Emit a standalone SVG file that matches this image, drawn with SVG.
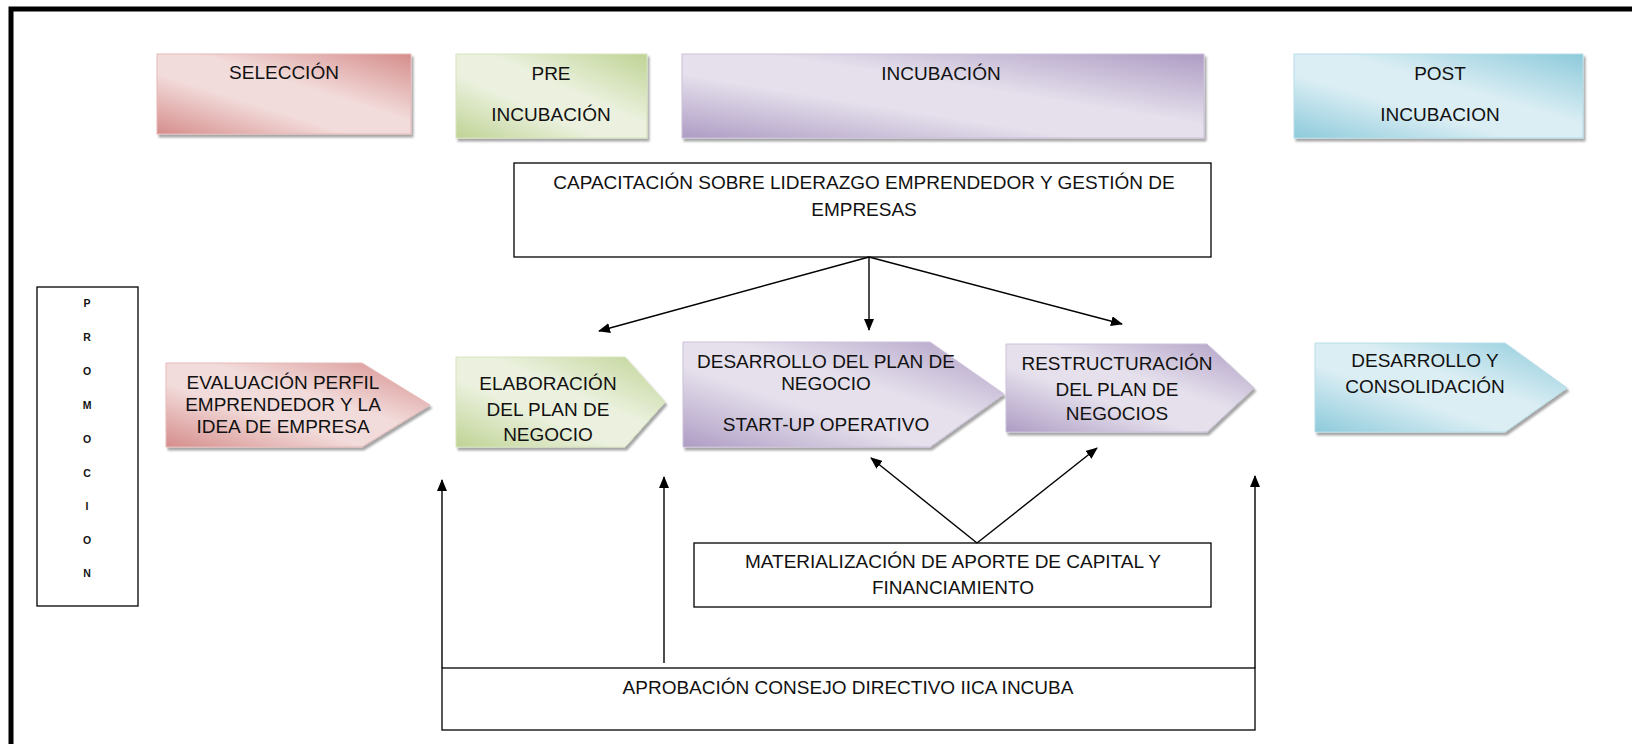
<svg xmlns="http://www.w3.org/2000/svg" width="1632" height="744" viewBox="0 0 1632 744">
<style>
  text { font-family: "Liberation Sans", Arial, sans-serif; font-size: 19px; fill: #111; text-anchor: middle; }
  .promo { font-size: 10.5px; font-weight: bold; }
  .box { fill: #fff; stroke: #000; stroke-width: 1.3; }
  .conn { stroke: #000; stroke-width: 1.4; fill: none; }
  .arr { marker-end: url(#ah); }
  .shape { filter: url(#sh); stroke-width: 1; }
</style>
<defs>
  <marker id="ah" markerUnits="userSpaceOnUse" markerWidth="12" markerHeight="10" refX="11" refY="5" orient="auto">
    <path d="M0,0 L12,5 L0,10 Z" fill="#000"/>
  </marker>
  <filter id="sh" x="-5%" y="-10%" width="115%" height="130%">
    <feDropShadow dx="2" dy="3" stdDeviation="1.2" flood-color="#000" flood-opacity="0.35"/>
  </filter>
  <linearGradient id="gRed" x1="0" y1="1" x2="1" y2="0">
    <stop offset="0" stop-color="#D58D8B"/>
    <stop offset="0.38" stop-color="#F2DCDB"/>
    <stop offset="0.58" stop-color="#F2DCDB"/>
    <stop offset="1" stop-color="#D58D8B"/>
  </linearGradient>
  <linearGradient id="gGreen" x1="0" y1="1" x2="1" y2="0">
    <stop offset="0" stop-color="#BFD394"/>
    <stop offset="0.38" stop-color="#EBF1DE"/>
    <stop offset="0.58" stop-color="#EBF1DE"/>
    <stop offset="1" stop-color="#BFD394"/>
  </linearGradient>
  <linearGradient id="gPurple" x1="0" y1="1" x2="1" y2="0">
    <stop offset="0" stop-color="#AE9CC4"/>
    <stop offset="0.38" stop-color="#E5E0EC"/>
    <stop offset="0.58" stop-color="#E5E0EC"/>
    <stop offset="1" stop-color="#AE9CC4"/>
  </linearGradient>
  <linearGradient id="gBlue" x1="0" y1="1" x2="1" y2="0">
    <stop offset="0" stop-color="#8DCADB"/>
    <stop offset="0.38" stop-color="#DBEEF4"/>
    <stop offset="0.58" stop-color="#DBEEF4"/>
    <stop offset="1" stop-color="#8DCADB"/>
  </linearGradient>
</defs>

<rect width="1632" height="744" fill="#fff"/>
<!-- outer frame -->
<path d="M11,744 V9 H1632" fill="none" stroke="#000" stroke-width="5"/>

<!-- header boxes -->
<g id="seleccion">
  <rect class="shape" x="157" y="54" width="254" height="80" fill="url(#gRed)" stroke="#E6B9B8"/>
  <text x="284" y="79">SELECCIÓN</text>
</g>
<g id="pre-incubacion">
  <rect class="shape" x="456" y="54" width="191" height="84" fill="url(#gGreen)" stroke="#D7E4BD"/>
  <text x="551" y="80">PRE</text>
  <text x="551" y="121">INCUBACIÓN</text>
</g>
<g id="incubacion">
  <rect class="shape" x="682" y="54" width="522" height="84" fill="url(#gPurple)" stroke="#CCC1DA"/>
  <text x="941" y="80">INCUBACIÓN</text>
</g>
<g id="post-incubacion">
  <rect class="shape" x="1294" y="54" width="289" height="84" fill="url(#gBlue)" stroke="#B7DEE8"/>
  <text x="1440" y="80">POST</text>
  <text x="1440" y="121">INCUBACION</text>
</g>

<!-- capacitacion -->
<g id="capacitacion">
  <rect class="box" x="514" y="163" width="697" height="94"/>
  <text x="864" y="189">CAPACITACIÓN SOBRE LIDERAZGO EMPRENDEDOR Y GESTIÓN DE</text>
  <text x="864" y="216">EMPRESAS</text>
</g>

<!-- promocion -->
<g id="promocion">
  <rect class="box" x="37" y="287" width="101" height="319"/>
  <text class="promo" x="87" y="307">P</text>
  <text class="promo" x="87" y="341">R</text>
  <text class="promo" x="87" y="375">O</text>
  <text class="promo" x="87" y="409">M</text>
  <text class="promo" x="87" y="443">O</text>
  <text class="promo" x="87" y="477">C</text>
  <text class="promo" x="87" y="510">I</text>
  <text class="promo" x="87" y="544">O</text>
  <text class="promo" x="87" y="577">N</text>
</g>

<!-- process chevrons -->
<g id="evaluacion">
  <path class="shape" d="M166,363 H362 L430,405 L362,447 H166 Z" fill="url(#gRed)" stroke="#E6B9B8"/>
  <text x="283" y="389">EVALUACIÓN PERFIL</text>
  <text x="283" y="411">EMPRENDEDOR Y LA</text>
  <text x="283" y="433">IDEA DE EMPRESA</text>
</g>
<g id="elaboracion">
  <path class="shape" d="M456,357 H625 L665,402 L625,447 H456 Z" fill="url(#gGreen)" stroke="#D7E4BD"/>
  <text x="548" y="390">ELABORACIÓN</text>
  <text x="548" y="416">DEL PLAN DE</text>
  <text x="548" y="441">NEGOCIO</text>
</g>
<g id="desarrollo-plan">
  <path class="shape" d="M683,342 H930 L1004,394 L930,447 H683 Z" fill="url(#gPurple)" stroke="#CCC1DA"/>
  <text x="826" y="368">DESARROLLO DEL PLAN DE</text>
  <text x="826" y="390">NEGOCIO</text>
  <text x="826" y="431">START-UP OPERATIVO</text>
</g>
<g id="restructuracion">
  <path class="shape" d="M1006,344 H1207 L1254,388 L1207,432 H1006 Z" fill="url(#gPurple)" stroke="#CCC1DA"/>
  <text x="1117" y="370">RESTRUCTURACIÓN</text>
  <text x="1117" y="396">DEL PLAN DE</text>
  <text x="1117" y="420">NEGOCIOS</text>
</g>
<g id="desarrollo-consolidacion">
  <path class="shape" d="M1315,343 H1505 L1567,388 L1505,432 H1315 Z" fill="url(#gBlue)" stroke="#B7DEE8"/>
  <text x="1425" y="367">DESARROLLO Y</text>
  <text x="1425" y="393">CONSOLIDACIÓN</text>
</g>

<!-- materializacion -->
<g id="materializacion">
  <rect class="box" x="694" y="543" width="517" height="64"/>
  <text x="953" y="568">MATERIALIZACIÓN DE APORTE DE CAPITAL Y</text>
  <text x="953" y="594">FINANCIAMIENTO</text>
</g>

<!-- aprobacion -->
<g id="aprobacion">
  <rect class="box" x="442" y="668" width="813" height="62"/>
  <text x="848" y="694">APROBACIÓN CONSEJO DIRECTIVO IICA INCUBA</text>
</g>

<!-- connectors -->
<g id="connectors">
  <line class="conn arr" x1="869" y1="257" x2="599" y2="331"/>
  <line class="conn arr" x1="869" y1="257" x2="869" y2="330"/>
  <line class="conn arr" x1="869" y1="257" x2="1122" y2="324"/>
  <line class="conn arr" x1="977" y1="543" x2="871" y2="458"/>
  <line class="conn arr" x1="977" y1="543" x2="1097" y2="448"/>
  <line class="conn arr" x1="442" y1="668" x2="442" y2="480"/>
  <line class="conn arr" x1="664" y1="663" x2="664" y2="477"/>
  <line class="conn arr" x1="1255" y1="668" x2="1255" y2="476"/>
</g>
</svg>
